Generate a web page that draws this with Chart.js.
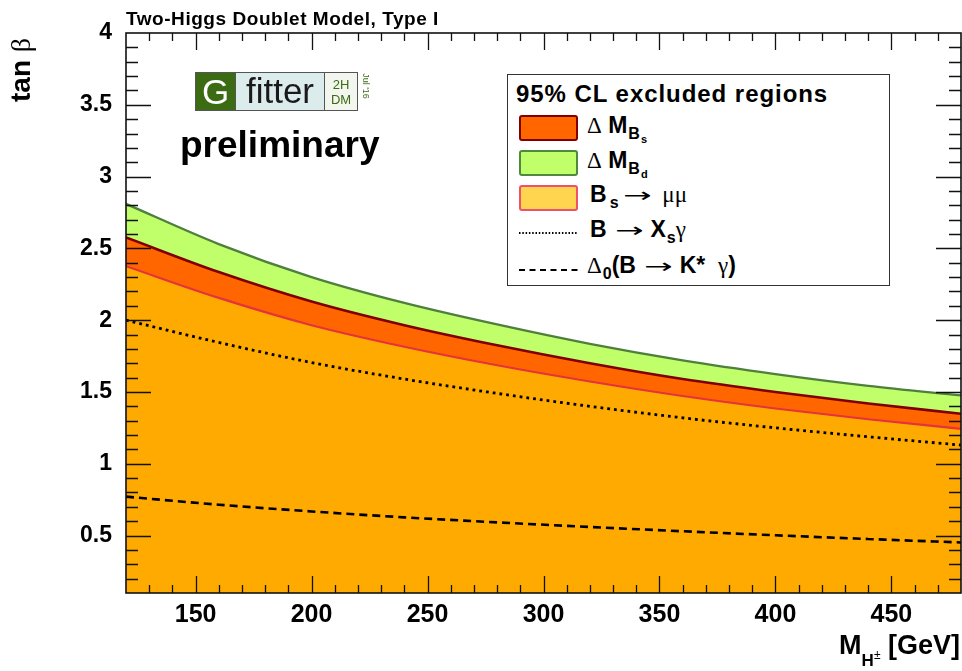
<!DOCTYPE html>
<html>
<head>
<meta charset="utf-8">
<script src="https://cdn.jsdelivr.net/npm/chart.js@4.4.1/dist/chart.umd.min.js"></script>
<style>
  html, body { margin: 0; padding: 0; background: #fff; }
  #wrap { position: relative; width: 962px; height: 671px; overflow: hidden;
          font-family: "Liberation Sans", Arial, Helvetica, sans-serif; }
  #wrap canvas { position: absolute; left: 0; top: 0; }
  .t { position: absolute; white-space: nowrap; line-height: 1; color: #000; }
  .b { font-weight: bold; }
  .sym { font-family: "Liberation Serif", "DejaVu Serif", serif; font-weight: normal; }
  .arr { display: inline-block; font-family: "DejaVu Sans", sans-serif; font-weight: normal;
         font-size: 20px; transform: scaleX(1.7); margin: 0 13px 0 14px; }
  .sub { position: relative; font-size: 16px; top: 6px; margin-left: 1px; }
  .subsub { position: relative; font-size: 11px; top: 4px; margin-left: 1px; }
  #legend { position: absolute; left: 507px; top: 74px; width: 383px; height: 212px;
            box-sizing: border-box; border: 1.5px solid #333; background: #fff; }
  .swatch { position: absolute; left: 519px; width: 59px; height: 26px; box-sizing: border-box;
            border-width: 2px; border-style: solid; border-radius: 3px; }
  #logo { position: absolute; left: 195px; top: 72px; height: 39px; display: flex;
          border: 1px solid #555; box-sizing: border-box; }
  #logo div { box-sizing: border-box; height: 37px; }
</style>
</head>
<body>
<div id="wrap">
  <canvas id="c" width="962" height="671"></canvas>

  <div class="t b" style="left:126px; top:9px; font-size:19px; letter-spacing:0.55px;">Two-Higgs Doublet Model, Type I</div>

  <div class="t b" style="left:21px; top:70px; font-size:28px; transform:translate(-50%,-50%) rotate(-90deg);">tan <span class="sym">β</span></div>

  <div class="t b" style="right:2px; top:632px; font-size:27px;">M<span style="position:relative; top:12px; font-size:17px;">H<span style="font-weight:normal; font-size:12px; position:relative; top:-7px;">±</span></span> [GeV]</div>

  <div id="logo">
    <div style="width:39px; background:#3b6b12; color:#fff; font-size:35px; line-height:37px; text-align:center;">G</div>
    <div style="width:89px; background:#dcebeb; border-left:1px solid #555; color:#1a1a1a; font-size:35px; line-height:35px; text-align:center;">fitter</div>
    <div style="width:33px; background:#f2f6ee; border-left:1px solid #555; color:#3b6b12; font-size:13px; line-height:15px; padding-top:4px; text-align:center;">2H<br>DM</div>
  </div>
  <div class="t" style="left:365px; top:86px; font-size:9px; color:#3b6b12; transform:translate(-50%,-50%) rotate(90deg);">Jul '16</div>

  <div class="t b" style="left:180px; top:126px; font-size:37px;">preliminary</div>

  <div id="legend"></div>
  <div class="t b" style="left:516px; top:82px; font-size:24px; letter-spacing:0.95px;">95% CL excluded regions</div>

  <div class="swatch" style="top:115px; background:#ff6600; border-color:#800000;"></div>
  <div class="t b" style="left:587px; top:114px; font-size:23px;"><span class="sym">Δ</span> M<span class="sub">B<span class="subsub">s</span></span></div>

  <div class="swatch" style="top:150px; background:#c0ff6a; border-color:#4e8a3c;"></div>
  <div class="t b" style="left:587px; top:149px; font-size:23px;"><span class="sym">Δ</span> M<span class="sub">B<span class="subsub">d</span></span></div>

  <div class="swatch" style="top:185px; background:#ffd54f; border-color:#f0506a;"></div>
  <div class="t b" style="left:590px; top:183px; font-size:23px;">B<span class="sub" style="margin-left:3px;">s</span><span class="arr" style="margin-left:10px;">→</span><span class="sym" style="margin-left:4px;">μμ</span></div>

  <svg style="position:absolute; left:519px; top:228px;" width="60" height="10">
    <line x1="0" y1="5" x2="59" y2="5" stroke="#000" stroke-width="2" stroke-dasharray="1.5,1.8"></line>
  </svg>
  <div class="t b" style="left:590px; top:218px; font-size:23px;">B<span class="arr">→</span>X<span class="sub">s</span><span class="sym">γ</span></div>

  <svg style="position:absolute; left:519px; top:265px;" width="60" height="10">
    <line x1="0" y1="5" x2="59" y2="5" stroke="#000" stroke-width="2.2" stroke-dasharray="6,4.5"></line>
  </svg>
  <div class="t b" style="left:587px; top:254px; font-size:23px;"><span class="sym">Δ</span><span class="sub">0</span>(B<span class="arr">→</span>K*&nbsp; <span class="sym">γ</span>)</div>
</div>

<script>
// Charged Higgs mass grid [GeV] and the tan(beta) exclusion boundaries at each mass
const massGeV         = [120,   160,   200,   240,   280,   320,   360,   400,   440,   480];
const deltaMBd        = [2.81,  2.53,  2.30,  2.12,  1.97,  1.835, 1.72,  1.625, 1.543, 1.476];
const deltaMBs        = [2.576, 2.335, 2.13,  1.965, 1.825, 1.70,  1.59,  1.50,  1.42,  1.348];
const bsMuMu          = [2.376, 2.155, 1.965, 1.815, 1.686, 1.573, 1.472, 1.385, 1.31,  1.243];
const bXsGamma        = [2.0,   1.845, 1.705, 1.59,  1.49,  1.40,  1.32,  1.25,  1.188, 1.13];
const deltaKstarGamma = [0.771, 0.715, 0.668, 0.627, 0.592, 0.56,  0.53,  0.502, 0.476, 0.452];

// Axis ranges and labelled tick values
const xRange = [120, 480];
const yRange = [0.1, 4];
const xTickLabels = [150, 200, 250, 300, 350, 400, 450];
const yTickLabels = [0.5, 1, 1.5, 2, 2.5, 3, 3.5, 4];

function series(values) {
  return massGeV.map((m, i) => ({ x: m, y: values[i] }));
}

// Frame with inward-pointing major/minor ticks on all four sides
const frameTicks = {
  id: 'frameTicks',
  afterDatasetsDraw(chart) {
    const { ctx, chartArea: a, scales: { x, y } } = chart;
    ctx.save();
    ctx.strokeStyle = '#111';
    ctx.lineWidth = 1.3;
    ctx.beginPath();
    for (let v = xRange[0] + 10; v < xRange[1]; v += 10) {
      const len = v % 50 === 0 ? 17 : 8;
      const px = Math.round(x.getPixelForValue(v)) + 0.5;
      ctx.moveTo(px, a.bottom); ctx.lineTo(px, a.bottom - len);
      ctx.moveTo(px, a.top);    ctx.lineTo(px, a.top + len);
    }
    for (let i = 2; i < 40; i++) {
      const len = i % 5 === 0 ? 25 : 12;
      const py = Math.round(y.getPixelForValue(i / 10)) + 0.5;
      ctx.moveTo(a.left, py);  ctx.lineTo(a.left + len, py);
      ctx.moveTo(a.right, py); ctx.lineTo(a.right - len, py);
    }
    ctx.stroke();
    ctx.lineWidth = 1.6;
    ctx.strokeRect(a.left, a.top, a.right - a.left, a.bottom - a.top);
    ctx.restore();
  }
};

const tickFont = size => ({ family: '"Liberation Sans", Arial, sans-serif', size, weight: 'bold' });

new Chart(document.getElementById('c'), {
  type: 'line',
  data: {
    datasets: [
      { label: 'Δ0(B → K* γ)', data: series(deltaKstarGamma), borderColor: '#000', borderWidth: 2.6,
        borderDash: [8, 5], fill: false, order: 0 },
      { label: 'B → Xs γ', data: series(bXsGamma), borderColor: '#000', borderWidth: 2.8,
        borderDash: [2.8, 4], fill: false, order: 1 },
      { label: 'Bs → μμ', data: series(bsMuMu), borderColor: '#e5323c', backgroundColor: '#ffaa00',
        borderWidth: 2.2, fill: 'start', order: 2 },
      { label: 'Δ M_Bs', data: series(deltaMBs), borderColor: '#800000', backgroundColor: '#ff6600',
        borderWidth: 2.6, fill: 'start', order: 3 },
      { label: 'Δ M_Bd', data: series(deltaMBd), borderColor: '#4e7f3c', backgroundColor: '#c0ff6a',
        borderWidth: 2.3, fill: 'start', order: 4 }
    ]
  },
  options: {
    responsive: false,
    animation: false,
    devicePixelRatio: 1,
    layout: { padding: { top: 33, right: 1, left: 0, bottom: 0 } },
    elements: { point: { radius: 0 }, line: { cubicInterpolationMode: 'monotone' } },
    plugins: { legend: { display: false }, tooltip: { enabled: false } },
    scales: {
      x: {
        type: 'linear', min: xRange[0], max: xRange[1],
        grid: { display: false, drawTicks: false }, border: { display: false },
        ticks: { autoSkip: false, padding: 7, color: '#000', font: tickFont(25), callback: v => String(v) },
        afterBuildTicks: s => { s.ticks = xTickLabels.map(v => ({ value: v })); },
        afterFit: s => { s.height = 78; }
      },
      y: {
        type: 'linear', min: yRange[0], max: yRange[1],
        grid: { display: false, drawTicks: false }, border: { display: false },
        ticks: { autoSkip: false, padding: 14, color: '#000', font: tickFont(23), callback: v => String(v) },
        afterBuildTicks: s => { s.ticks = yTickLabels.map(v => ({ value: v })); },
        afterFit: s => { s.width = 126; }
      }
    }
  },
  plugins: [frameTicks]
});
</script>
</body>
</html>
